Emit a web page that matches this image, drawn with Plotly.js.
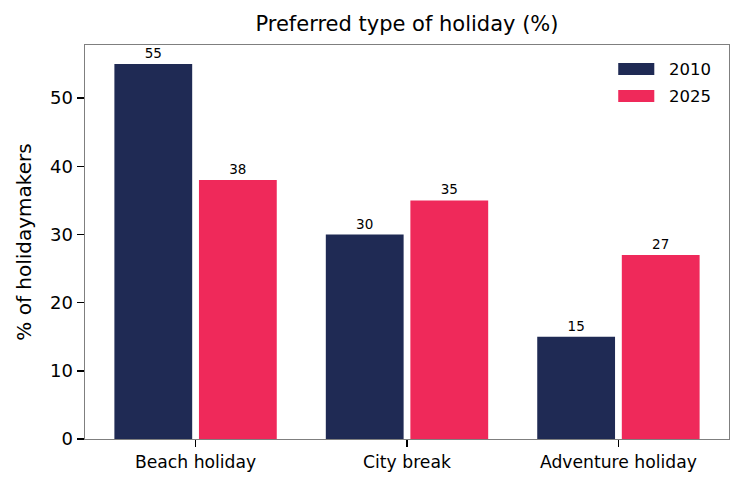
<!DOCTYPE html>
<html><head><meta charset="utf-8">
<script src="https://cdn.plot.ly/plotly-3.0.1.min.js"></script>
<style>html,body{margin:0;padding:0;background:#fff}</style>
</head><body><div id="chart" style="width:745px;height:489px"></div>
<script>
const categories = ["Beach holiday", "City break", "Adventure holiday"];
const values2010 = [55, 30, 15];
const values2025 = [38, 35, 27];
const seriesNames = ["2010", "2025"];
const seriesColors = ["#1f2a54", "#ef295a"];
const yTicks = [0, 10, 20, 30, 40, 50];

const FONT = "DejaVu Sans, sans-serif";
const common = {
  type: "bar",
  x: categories,
  width: 0.368,
  textposition: "outside",
  texttemplate: "%{y}",
  textfont: {family: FONT, size: 13.5, color: "#000"},
  cliponaxis: false,
  hoverinfo: "skip",
  showlegend: false
};
const data = [
  Object.assign({}, common, {name: seriesNames[0], y: values2010, offset: -0.384, marker: {color: seriesColors[0]}}),
  Object.assign({}, common, {name: seriesNames[1], y: values2025, offset: 0.016, marker: {color: seriesColors[1]}})
];

// custom legend (matplotlib-style wide swatches)
const shapes = [], annotations = [];
seriesNames.forEach((n, i) => {
  const yc = 0.939 - i * 0.0685;
  shapes.push({type: "rect", xref: "paper", yref: "paper", x0: 0.828, x1: 0.884, y0: yc - 0.0152, y1: yc + 0.0152,
    fillcolor: seriesColors[i], line: {width: 0}});
  annotations.push({xref: "paper", yref: "paper", x: 0.903, y: yc, xanchor: "left", yanchor: "middle",
    text: n, showarrow: false, font: {family: FONT, size: 16.5, color: "#000"}});
});

const layout = {
  width: 745, height: 489,
  margin: {l: 85, r: 15.5, t: 45, b: 50},
  paper_bgcolor: "#fff", plot_bgcolor: "#fff",
  barmode: "overlay",
  font: {family: FONT, color: "#000"},
  title: {text: "Preferred type of holiday (%)", font: {family: FONT, size: 21, color: "#000"}, xref: "paper", x: 0.5, xanchor: "center", y: 0.951, yanchor: "middle"},
  xaxis: {
    type: "category", range: [-0.523, 2.523],
    showline: true, linecolor: "#7f7f7f", linewidth: 1.4, mirror: true,
    ticks: "outside", ticklen: 7, tickwidth: 1.5, tickcolor: "#000",
    tickfont: {family: FONT, size: 17.2, color: "#000"},
    showgrid: false, zeroline: false, fixedrange: true
  },
  yaxis: {
    range: [0, 57.8], tickvals: yTicks,
    showline: true, linecolor: "#7f7f7f", linewidth: 1.4, mirror: true,
    ticks: "outside", ticklen: 7, tickwidth: 1.5, tickcolor: "#000",
    tickfont: {family: FONT, size: 18, color: "#000"},
    title: {text: "% of holidaymakers", font: {family: FONT, size: 20, color: "#000"}, standoff: 13},
    showgrid: false, zeroline: false, fixedrange: true
  },
  shapes: shapes,
  annotations: annotations,
  showlegend: false
};
Plotly.newPlot("chart", data, layout, {displayModeBar: false, staticPlot: true});
</script></body></html>
